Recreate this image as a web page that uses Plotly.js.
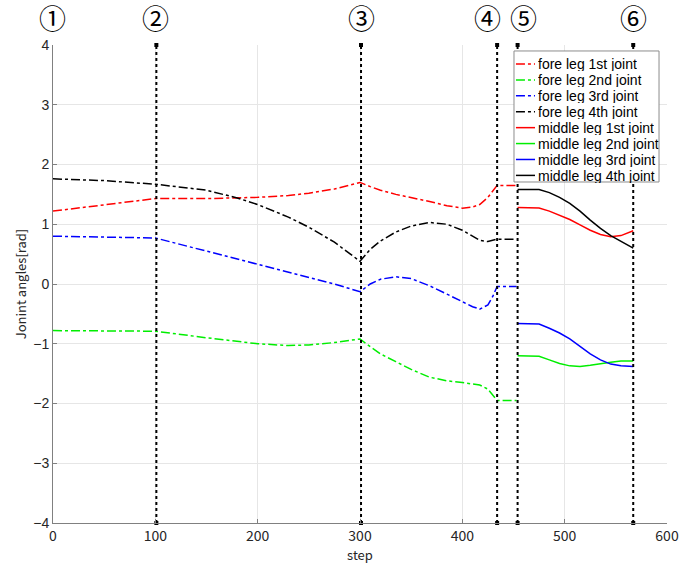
<!DOCTYPE html>
<html>
<head>
<meta charset="utf-8">
<script src="https://cdn.plot.ly/plotly-3.0.1.min.js"></script>
<style>html,body{margin:0;padding:0;background:#fff;}#chart{width:684px;height:572px;}</style>
</head>
<body>
<div id="chart"></div>
<script>
// Fore leg (dash-dot) segment
const foreSteps = [0, 50, 100, 150, 180, 200, 230, 250, 275, 300, 310, 320, 335, 350, 368, 385, 400, 410, 417, 425, 430, 434, 444, 453];
const fore1 = [1.22, 1.32, 1.43, 1.43, 1.44, 1.45, 1.48, 1.52, 1.59, 1.70, 1.63, 1.57, 1.50, 1.45, 1.38, 1.31, 1.27, 1.29, 1.33, 1.45, 1.56, 1.65, 1.65, 1.65];
const fore2 = [-0.78, -0.78, -0.79, -0.90, -0.96, -1.00, -1.03, -1.02, -0.98, -0.92, -1.05, -1.17, -1.30, -1.43, -1.56, -1.62, -1.65, -1.67, -1.69, -1.76, -1.86, -1.95, -1.95, -1.95];
const fore3 = [0.80, 0.79, 0.77, 0.55, 0.42, 0.33, 0.20, 0.11, 0.00, -0.13, 0.00, 0.08, 0.12, 0.09, -0.03, -0.17, -0.30, -0.38, -0.42, -0.35, -0.20, -0.04, -0.04, -0.04];
const fore4 = [1.76, 1.73, 1.67, 1.57, 1.44, 1.33, 1.12, 0.95, 0.70, 0.38, 0.58, 0.72, 0.87, 0.97, 1.03, 1.00, 0.90, 0.80, 0.73, 0.71, 0.73, 0.75, 0.75, 0.75];

// Middle leg (solid) segment
const midSteps = [454, 465, 475, 485, 495, 505, 515, 525, 535, 545, 555, 567];
const mid1 = [1.28, 1.28, 1.27, 1.22, 1.15, 1.08, 0.99, 0.90, 0.83, 0.79, 0.81, 0.89];
const mid2 = [-1.20, -1.20, -1.21, -1.27, -1.33, -1.37, -1.38, -1.36, -1.33, -1.31, -1.29, -1.29];
const mid3 = [-0.66, -0.66, -0.67, -0.74, -0.82, -0.92, -1.05, -1.17, -1.27, -1.34, -1.37, -1.38];
const mid4 = [1.58, 1.58, 1.58, 1.53, 1.45, 1.35, 1.22, 1.07, 0.93, 0.81, 0.71, 0.60];

const seriesNames = ['fore leg 1st joint', 'fore leg 2nd joint', 'fore leg 3rd joint', 'fore leg 4th joint',
                     'middle leg 1st joint', 'middle leg 2nd joint', 'middle leg 3rd joint', 'middle leg 4th joint'];
const seriesColors = ['#ff0000', '#00ee00', '#0000ff', '#000000'];

// Phase boundary lines and labels
const phaseSteps = [101, 301, 434, 454, 567];
const labelSteps = [0, 101, 301, 434, 454, 567];
const labelTexts = ['①', '②', '③', '④', '⑤', '⑥'];
const yRange = [-4, 4];

const fontFam = 'Noto Sans CJK JP, Liberation Sans, sans-serif';
const legFont = 'Liberation Sans, Arial, sans-serif';
const traces = [];
const foreVals = [fore1, fore2, fore3, fore4];
const midVals = [mid1, mid2, mid3, mid4];
foreVals.forEach((v, i) => traces.push({
  x: foreSteps, y: v, type: 'scatter', mode: 'lines', name: seriesNames[i],
  line: {color: seriesColors[i], width: 1.5, dash: 'dashdot'}
}));
midVals.forEach((v, i) => traces.push({
  x: midSteps, y: v, type: 'scatter', mode: 'lines', name: seriesNames[i + 4],
  line: {color: seriesColors[i], width: 1.5}
}));
phaseSteps.forEach(s => traces.push({
  x: [s, s], y: yRange, type: 'scatter', mode: 'lines+markers', showlegend: false, hoverinfo: 'skip',
  line: {color: '#000', width: 2, dash: 'dot'},
  marker: {symbol: 'square', size: 4, color: '#000'}, cliponaxis: false
}));

// circled phase labels
const labelXShift = [-1, -1, 0, -10, 6, 0];
const annotations = labelSteps.map((s, i) => ({
  x: s, xref: 'x', y: 1.056, yref: 'paper', yanchor: 'middle', xshift: labelXShift[i], yshift: 1,
  text: labelTexts[i], showarrow: false, borderpad: 0,
  font: {family: 'Noto Sans CJK JP, DejaVu Sans', size: 27, color: '#000'}
}));

// hand-drawn legend box (MATLAB style, compact rows)
const legX0 = 0.7508, legX1 = 0.987, legTop = 0.9875, legBot = 0.7134;
const rowTop = 0.9603, rowStep = 0.0333;
const shapes = [{
  type: 'rect', xref: 'paper', yref: 'paper', x0: legX0, x1: legX1, y0: legBot, y1: legTop,
  fillcolor: '#fff', line: {color: '#8c8c8c', width: 1}, layer: 'above'
}];
seriesNames.forEach((nm, i) => {
  const yy = rowTop - i * rowStep;
  shapes.push({
    type: 'line', xref: 'paper', yref: 'paper', x0: 0.754, x1: 0.785, y0: yy, y1: yy,
    line: {color: seriesColors[i % 4], width: 1.5, dash: i < 4 ? 'dashdot' : 'solid'}, layer: 'above'
  });
  annotations.push({
    x: 0.7875, xref: 'paper', xanchor: 'left', y: yy, yref: 'paper', yanchor: 'middle',
    text: nm, showarrow: false, borderpad: 0, height: 15,
    font: {family: legFont, size: 14, color: '#000'}
  });
});

const layout = {
  width: 684, height: 572,
  margin: {l: 53, r: 17, t: 45, b: 49},
  paper_bgcolor: '#fff', plot_bgcolor: '#fff',
  font: {family: fontFam, size: 14, color: '#262626'},
  showlegend: false,
  xaxis: {
    range: [0, 600], dtick: 100, tick0: 0,
    showgrid: true, gridcolor: '#e6e6e6', zeroline: false,
    showline: true, linecolor: '#808080', linewidth: 1,
    ticks: 'inside', ticklen: 4, tickcolor: '#808080',
    title: {text: 'step', font: {size: 13}, standoff: 4}
  },
  yaxis: {
    range: yRange, dtick: 1, tick0: 0,
    showgrid: true, gridcolor: '#e6e6e6', zeroline: false,
    showline: true, linecolor: '#808080', linewidth: 1,
    ticks: 'inside', ticklen: 4, tickcolor: '#808080',
    tickfont: {family: legFont, size: 14},
    title: {text: 'Jonint angles[rad]', font: {size: 13}, standoff: 3}
  },
  shapes: shapes,
  annotations: annotations
};

Plotly.newPlot('chart', traces, layout, {displayModeBar: false, staticPlot: true});
</script>
</body>
</html>
